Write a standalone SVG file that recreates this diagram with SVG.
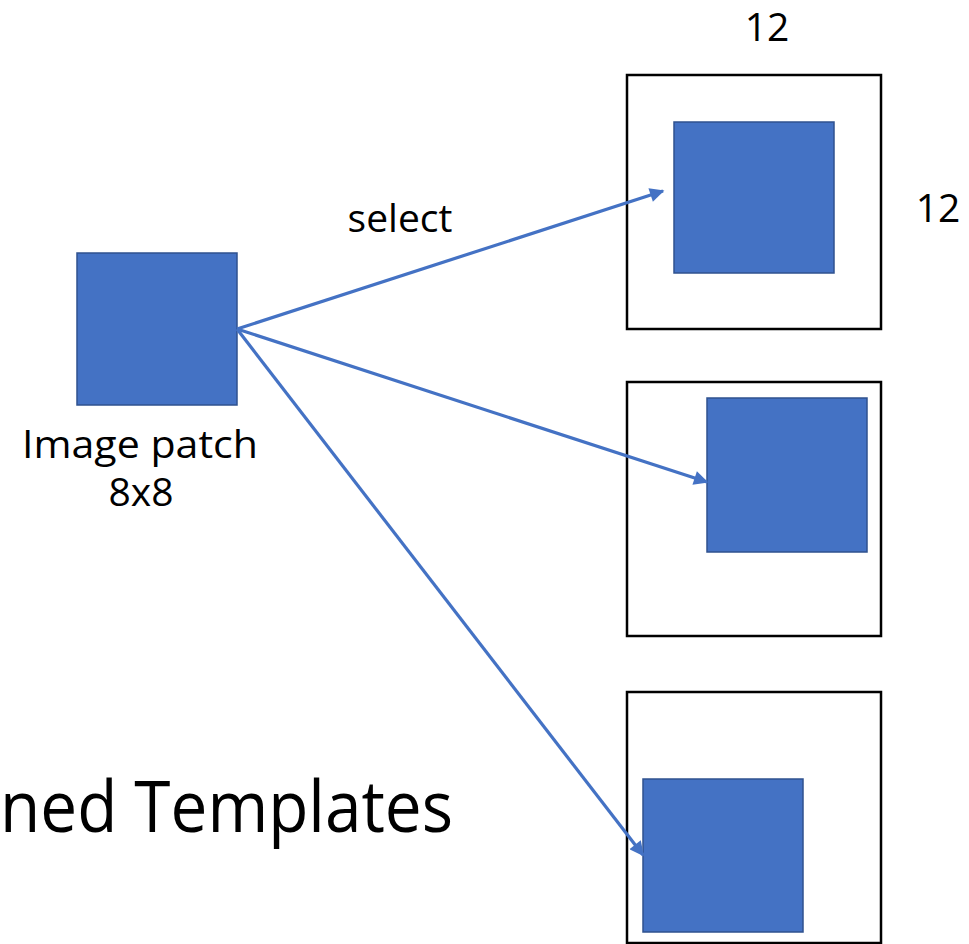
<svg xmlns="http://www.w3.org/2000/svg" width="969" height="944" viewBox="0 0 969 944">
  <style>
    .lbl { font-family: "Open Sans", "Liberation Sans", sans-serif; font-size: 39px; fill: #000; }
    .title { font-family: "Open Sans", "Liberation Sans", sans-serif; font-size: 72px; fill: #000; }
    .frame { fill: #fff; stroke: #000; stroke-width: 2.5; }
    .patch { fill: #4472C4; stroke: #2F528F; stroke-width: 1.5; }
    .conn { stroke: #4472C4; stroke-width: 3.2; fill: none; marker-end: url(#head); }
  </style>
  <defs>
    <marker id="head" viewBox="0 0 10 10" refX="9" refY="5" markerWidth="5" markerHeight="4.5" orient="auto" markerUnits="strokeWidth">
      <path d="M0,0 L10,5 L0,10 z" fill="#4472C4"/>
    </marker>
  </defs>
  <rect width="969" height="944" fill="#fff"/>

  <text class="title" x="0" y="832" textLength="453" lengthAdjust="spacingAndGlyphs">ned Templates</text>

  <g id="source">
    <rect class="patch" x="77" y="253" width="160" height="152"/>
    <text class="lbl" x="140" y="458" text-anchor="middle" textLength="236" lengthAdjust="spacingAndGlyphs">Image patch</text>
    <text class="lbl" x="141" y="506" text-anchor="middle">8x8</text>
  </g>

  <g id="template-1">
    <rect class="frame" x="627" y="75" width="254" height="254"/>
    <rect class="patch" x="674" y="122" width="160" height="151"/>
    <text class="lbl" x="767" y="41" text-anchor="middle">12</text>
    <text class="lbl" x="938" y="222" text-anchor="middle">12</text>
  </g>

  <g id="template-2">
    <rect class="frame" x="627" y="382" width="254" height="254"/>
    <rect class="patch" x="707" y="398" width="160" height="154"/>
  </g>

  <g id="template-3">
    <rect class="frame" x="627" y="692" width="254" height="251"/>
    <rect class="patch" x="643" y="779" width="160" height="153"/>
  </g>

  <g id="connectors">
    <line class="conn" x1="237" y1="329" x2="663" y2="191"/>
    <line class="conn" x1="237" y1="329" x2="707" y2="482"/>
    <line class="conn" x1="237" y1="329" x2="643" y2="855"/>
    <text class="lbl" x="400" y="232" text-anchor="middle">select</text>
  </g>
</svg>
